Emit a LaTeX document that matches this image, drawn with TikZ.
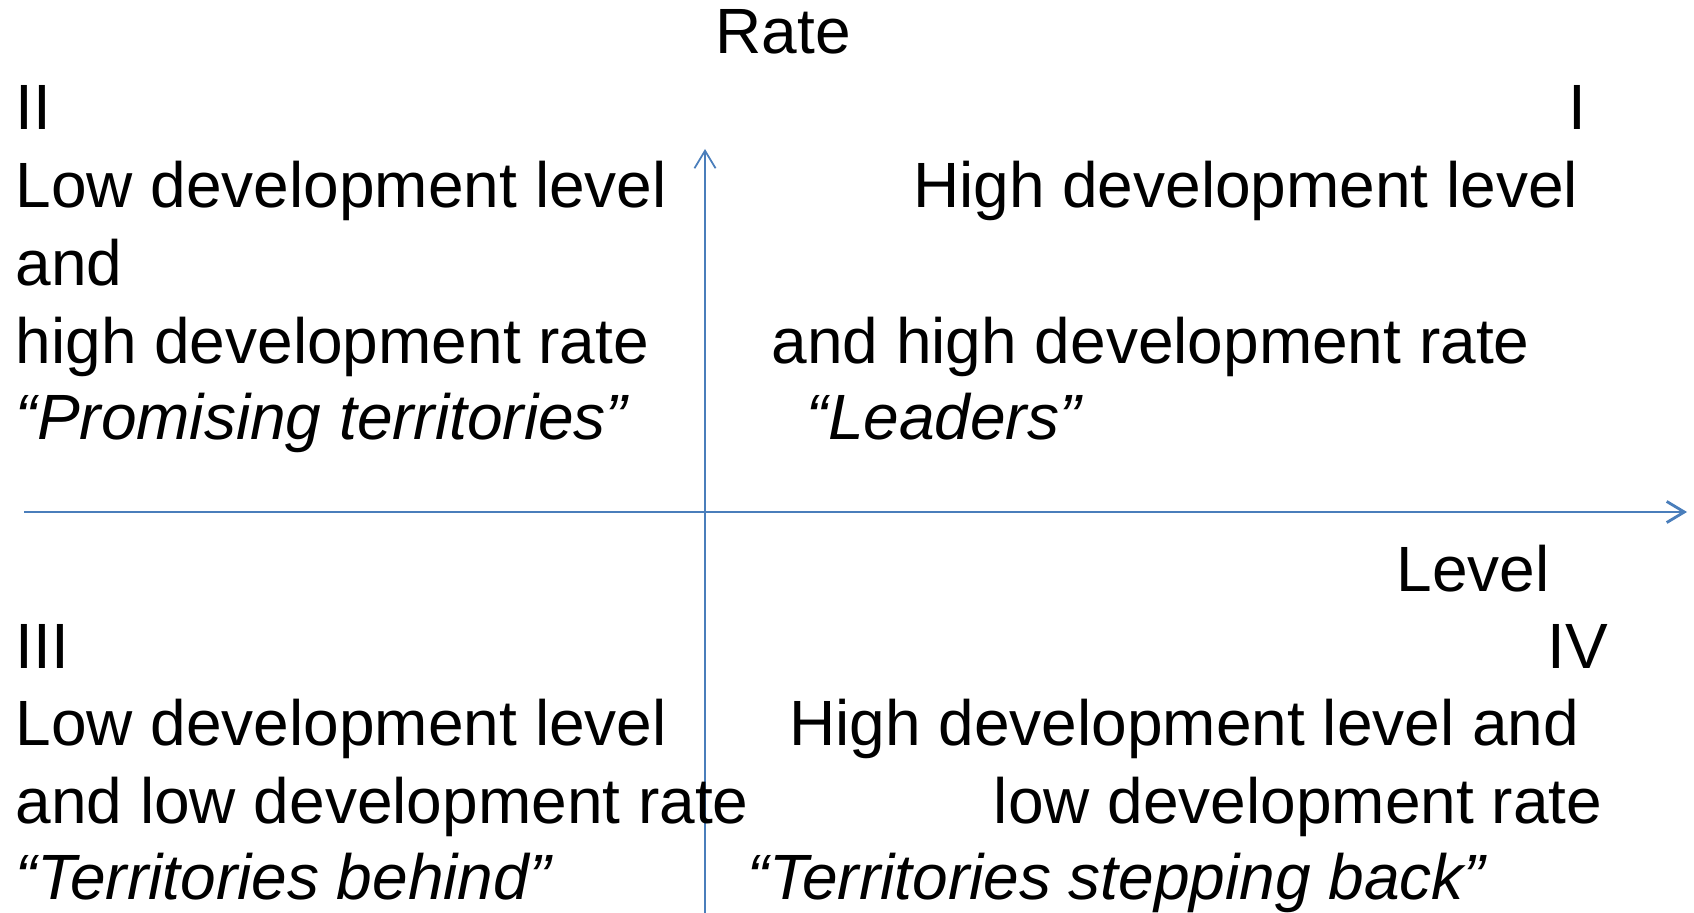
\documentclass[tikz,border=0pt]{standalone}
\usepackage{fontspec}
\setmainfont{Liberation Sans}
\usetikzlibrary{arrows.meta,calc}
\definecolor{axisblue}{HTML}{4A7EBB}

\begin{document}
\begin{tikzpicture}[x=0.01cm,y=-0.01cm,
  quad/.style={anchor=base west,inner sep=0pt,font=\fontsize{18.2pt}{22pt}\selectfont},
  quadr/.style={quad,anchor=base east},
  axis/.style={draw=axisblue,-{Straight Barb[length=5pt,width=6pt]}}]
\useasboundingbox (0,0) rectangle (1694,913);
% axes
\coordinate (origin) at (705,512);
\coordinate (rateend) at (705,149);
\coordinate (ratestart) at (705,913);
\coordinate (levelstart) at (24,512);
\coordinate (levelend) at (1687,512);
\draw[axis,line width=0.8pt] (levelstart) -- (levelend);
\draw[axis,line width=0.5pt] (ratestart) -- (rateend);
% axis titles
\node[quad] (rate) at (715,54) {Rate};
\node[quad] (level) at (1396,592) {Level};
% quadrant II
\node[quad] (numII) at (15,130) {II};
\node[quad] (IIa) at (15,208) {Low development level};
\node[quad] (IIb) at (15,286) {and};
\node[quad] (IIc) at (15,364) {high development rate};
\node[quad] (IId) at (15,440) {\itshape “Promising territories”};
% quadrant I
\node[quadr] (numI) at (1587,130) {I};
\node[quadr] (Ia) at (1579,208) {High development level};
\node[quad] (Ib) at (771,364) {and high development rate};
\node[quad] (Ic) at (806,440) {\itshape “Leaders”};
% quadrant III
\node[quad] (numIII) at (15,669) {III};
\node[quad] (IIIa) at (15,745) {Low development level};
\node[quad] (IIIb) at (15,823) {and low development rate};
\node[quad] (IIIc) at (15,899) {\itshape “Territories behind”};
% quadrant IV
\node[quadr] (numIV) at (1609,669) {IV};
\node[quadr] (IVa) at (1580,745) {High development level and};
\node[quadr] (IVb) at (1603,823) {low development rate};
\node[quad] (IVc) at (747,899) {\itshape “Territories stepping back”};
\end{tikzpicture}
\end{document}
